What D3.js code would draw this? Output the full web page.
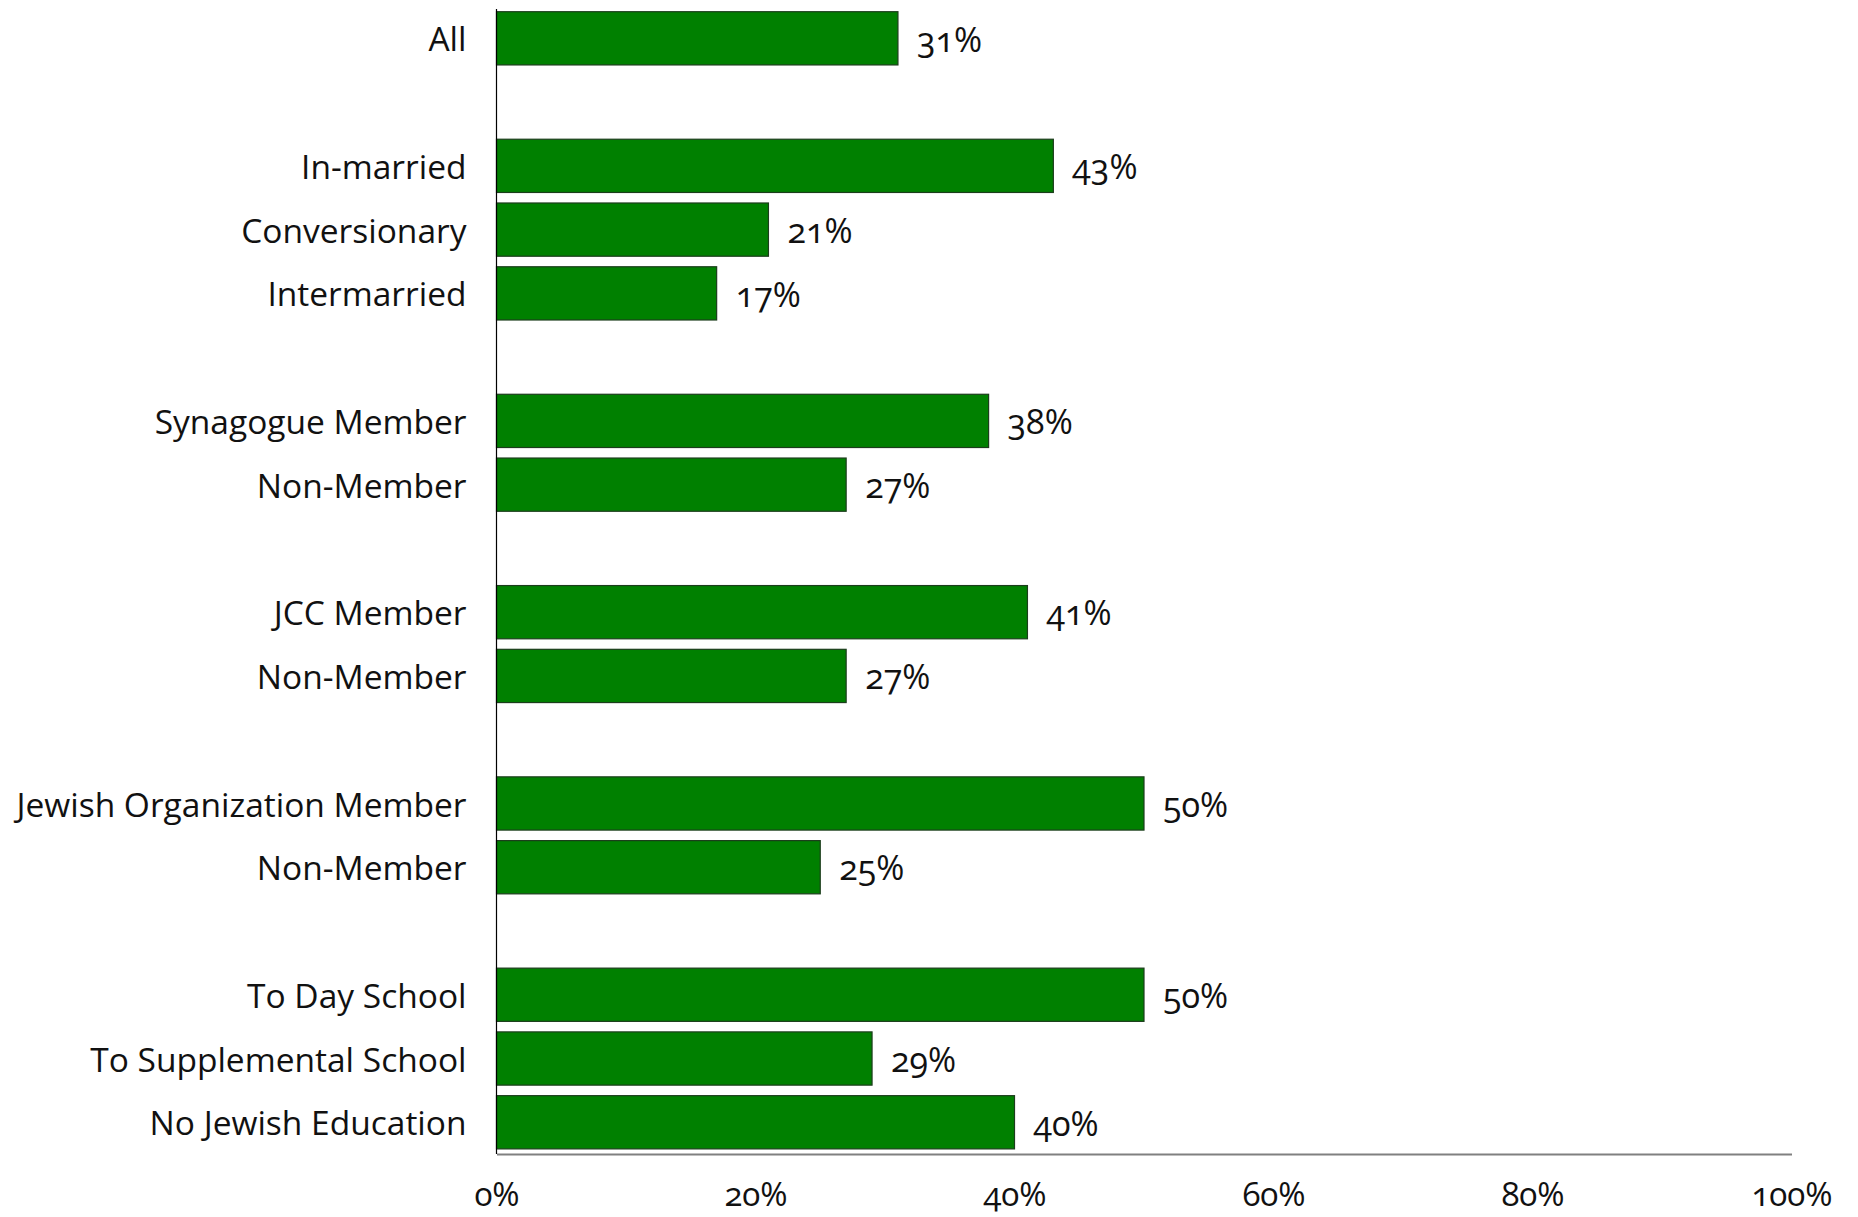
<!DOCTYPE html>
<html><head><meta charset="utf-8">
<script src="https://cdn.jsdelivr.net/npm/d3@7"></script>
<style>
html,body{margin:0;padding:0;background:#fff;}
text{font-family:"Open Sans","Noto Sans",sans-serif;font-variant-numeric:oldstyle-nums;fill:#111;}
</style></head>
<body><svg id="c" width="1858" height="1217"></svg>
<script>
// slots: null entries are empty gaps between groups
const categories = ["All", null, "In-married", "Conversionary", "Intermarried", null,
  "Synagogue Member", "Non-Member", null, "JCC Member", "Non-Member", null,
  "Jewish Organization Member", "Non-Member", null,
  "To Day School", "To Supplemental School", "No Jewish Education"];
const values = [31, null, 43, 21, 17, null, 38, 27, null, 41, 27, null, 50, 25, null, 50, 29, 40];
const tickValues = [0, 20, 40, 60, 80, 100];

const svg = d3.select("#c");
const pLeft = 496.5, pRight = 1791.5, pTop = 6.6, pBottom = 1154;
const keys = categories.map((c, i) => i);
const x = d3.scaleLinear().domain([0, 100]).range([pLeft, pRight]);
const y = d3.scaleBand().domain(keys).range([pTop, pBottom]).paddingInner(0.165).paddingOuter(0.08);

const data = keys.filter(i => values[i] != null).map(i => ({i, cat: categories[i], v: values[i]}));

svg.selectAll("rect.bar").data(data).enter().append("rect")
  .attr("class", "bar")
  .attr("x", x(0))
  .attr("y", d => y(d.i))
  .attr("width", d => x(d.v) - x(0))
  .attr("height", y.bandwidth())
  .attr("fill", "#008000")
  .attr("stroke", "#1c3d1c")
  .attr("stroke-width", 1.2);

svg.selectAll("text.val").data(data).enter().append("text")
  .attr("class", "val")
  .attr("x", d => x(d.v) + 19)
  .attr("y", d => y(d.i) + y.bandwidth() / 2 + 1)
  .attr("dy", "0.36em")
  .attr("font-size", 34)
  .text(d => d.v + "%");

svg.selectAll("text.cat").data(data).enter().append("text")
  .attr("class", "cat")
  .attr("x", pLeft - 30)
  .attr("y", d => y(d.i) + y.bandwidth() / 2 + 1)
  .attr("dy", "0.36em")
  .attr("text-anchor", "end")
  .attr("font-size", 33.5)
  .text(d => d.cat);

svg.append("line").attr("x1", pLeft).attr("x2", pLeft).attr("y1", 9).attr("y2", pBottom)
  .attr("stroke", "#000").attr("stroke-width", 1.2);

const xAxis = d3.axisBottom(x).tickValues(tickValues).tickSize(0).tickPadding(0).tickFormat(d => d + "%");
const gx = svg.append("g").attr("transform", `translate(0,${pBottom})`).call(xAxis);
gx.select(".domain").attr("stroke", "#808080").attr("stroke-width", 2.2);
gx.selectAll(".tick text").attr("font-size", 33).attr("y", 40.5).attr("dy", "0.36em")
  .style("font-family", '"Open Sans","Noto Sans",sans-serif').style("font-variant-numeric", "oldstyle-nums").attr("fill", "#111");
</script></body></html>
